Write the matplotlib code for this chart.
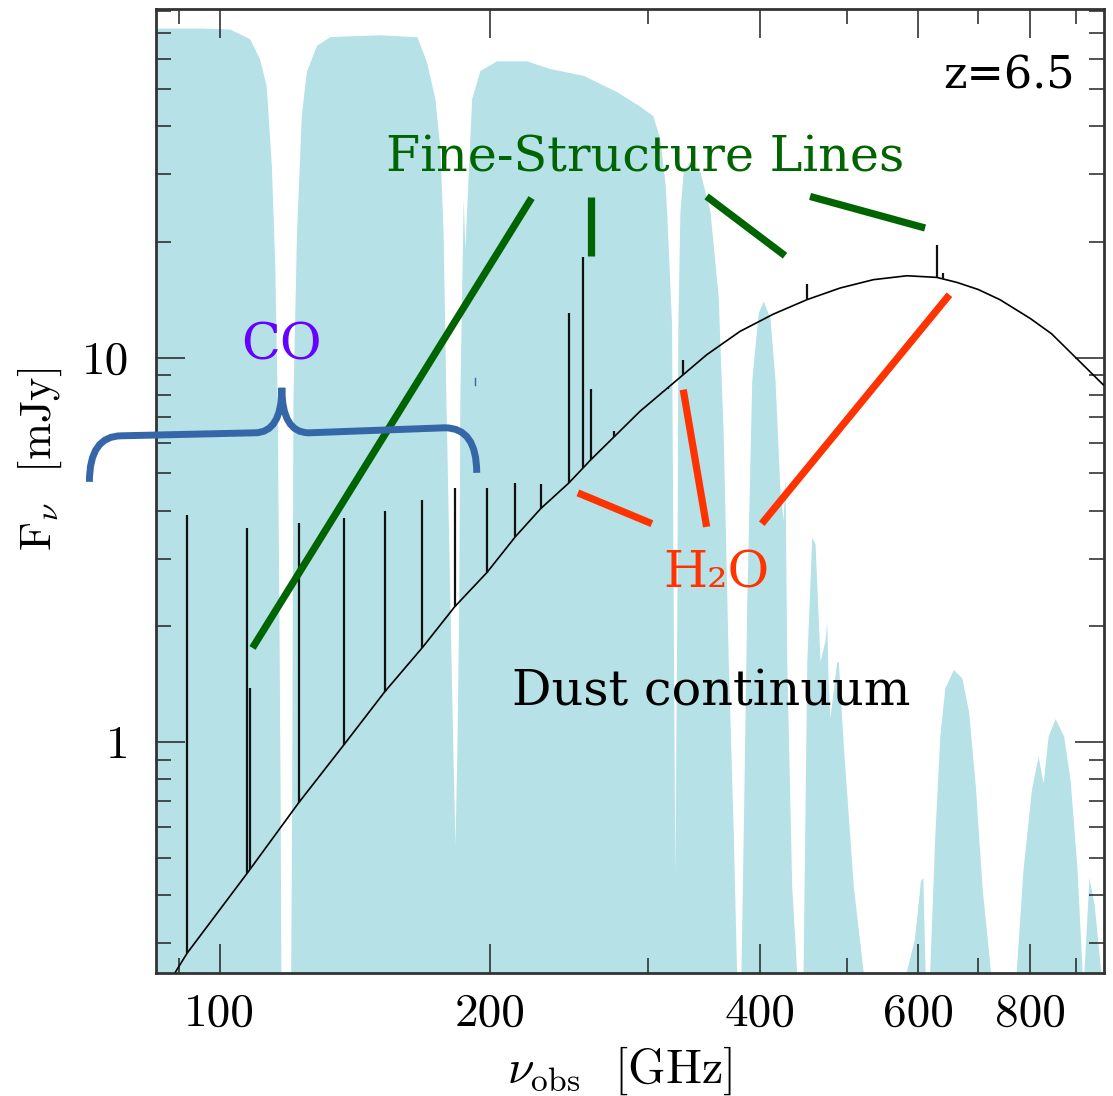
import numpy as np
import matplotlib.pyplot as plt
from matplotlib.path import Path
from matplotlib.patches import PathPatch
from matplotlib.ticker import NullFormatter

plt.rcParams["mathtext.fontset"] = "cm"
plt.rcParams["axes.unicode_minus"] = False

# dust continuum of the z=6.5 source (observed GHz, mJy)
cont_nu = [89.3, 92.0, 107.3, 122.5, 137.5, 152.7, 168.2, 182.8, 198.5, 213.5,
           227.9, 244.9, 259.0, 293.9, 320.2, 348.8, 379.9, 413.9, 451.0, 491.2,
           535.0, 583.1, 629.5, 663.0, 700.0, 740.5, 800.0, 845.0, 900.0, 964.7]
cont_flux = [0.252, 0.282, 0.455, 0.695, 0.982, 1.35, 1.76, 2.25, 2.76, 3.42,
             4.05, 4.72, 5.42, 7.25, 8.59, 10.18, 11.71, 12.99, 14.16, 15.19,
             15.97, 16.35, 16.19, 15.71, 15.06, 14.16, 12.66, 11.55, 9.99, 8.51]

# emission lines: CO ladder, [CI], fine-structure and H2O lines
line_nu = [92.0, 107.3, 108.2, 122.5, 137.5, 152.7, 168.2, 182.8, 198.5, 213.5,
           227.9, 244.9, 253.7, 259.0, 274.9, 312.0, 316.0, 328.1, 451.0, 629.5,
           639.3]
line_peak = [3.9, 3.6, 1.38, 3.71, 3.83, 4.0, 4.27, 4.59, 4.59, 4.72,
             4.70, 13.1, 18.3, 8.3, 6.43, 8.2, 8.3, 9.86, 15.6, 19.7,
             16.6]

# atmospheric transmission, as a fraction of the panel height
atm_nu = [84.9, 95.0, 102.6, 105.3, 108.0, 110.8, 112.7, 114.2, 115.2, 115.9,
          116.4, 116.8, 117.0, 120.0, 120.3, 120.7, 121.8, 123.3, 124.9, 128.2,
          132.6, 139.6, 150.8, 165.9, 170.0, 173.7, 176.0, 177.4, 178.7, 180.5,
          181.9, 182.9, 183.8, 184.7, 185.2, 186.8, 187.6, 190.9, 195.0, 203.5,
          219.8, 233.3, 254.1, 277.0, 293.9, 303.9, 309.4, 313.4, 314.8, 318.8,
          320.1, 321.5, 323.2, 324.0, 325.7, 328.5, 334.2, 342.9, 351.8, 359.3,
          364.0, 368.7, 373.4, 376.7, 380.9, 383.2, 386.6, 391.6, 398.2, 403.4,
          410.4, 415.7, 421.1, 424.4, 426.5, 428.4, 433.9, 439.5, 446.7, 451.0,
          456.8, 460.7, 466.6, 472.7, 474.7, 476.3, 478.6, 487.0, 489.0, 495.3,
          508.2, 521.4, 581.6, 594.3, 603.7, 607.4, 611.0, 618.1, 626.2, 634.4,
          642.7, 656.9, 671.4, 683.1, 695.0, 707.2, 722.8, 771.6, 785.1, 802.4,
          816.4, 827.0, 837.7, 852.9, 871.6, 886.4, 902.4, 914.1, 918.1, 930.2,
          942.7, 959.0, 967.2]
atm_trans = [0.980, 0.980, 0.979, 0.974, 0.969, 0.948, 0.920, 0.837, 0.733, 0.595,
             0.387, 0.180, 0.0, 0.0, 0.180, 0.595, 0.768, 0.889, 0.935, 0.962,
             0.971, 0.972, 0.973, 0.971, 0.945, 0.907, 0.855, 0.768, 0.595, 0.387,
             0.232, 0.133, 0.232, 0.387, 0.595, 0.803, 0.751, 0.907, 0.936, 0.946,
             0.946, 0.938, 0.931, 0.914, 0.899, 0.889, 0.865, 0.820, 0.790, 0.673,
             0.387, 0.102, 0.387, 0.673, 0.790, 0.831, 0.842, 0.831, 0.790, 0.702,
             0.557, 0.323, 0.148, 0.0, 0.0, 0.148, 0.382, 0.615, 0.685, 0.697,
             0.679, 0.615, 0.498, 0.470, 0.516, 0.323, 0.090, 0.0, 0.0, 0.323,
             0.452, 0.445, 0.323, 0.346, 0.364, 0.304, 0.265, 0.323, 0.323, 0.236,
             0.090, 0.0, 0.0, 0.035, 0.096, 0.099, 0.0, 0.0, 0.141, 0.246,
             0.296, 0.315, 0.306, 0.271, 0.194, 0.088, 0.0, 0.0, 0.106, 0.190,
             0.225, 0.197, 0.246, 0.264, 0.246, 0.200, 0.106, 0.0, 0.0, 0.099,
             0.071, 0.0, 0.0]

fig = plt.figure(figsize=(11.13, 10.96), dpi=100)
ax = fig.add_axes([0.140, 0.112, 0.852, 0.880])
ax.set_xscale("log")
ax.set_yscale("log")
ax.set_xlim(84.9, 967)
ax.set_ylim(0.25, 81)

ax.fill_between(atm_nu, 0, atm_trans, transform=ax.get_xaxis_transform(),
                color="#b5e1e7", lw=0, zorder=1)

# continuum plus line spikes sitting on it
ax.plot(cont_nu, cont_flux, color="black", lw=1.2, zorder=3)
base = np.exp(np.interp(np.log(line_nu), np.log(cont_nu), np.log(cont_flux)))
ax.vlines(line_nu, base, line_peak, color="#111111", lw=1.6, zorder=3)

# fine-structure pointers
green = "#006400"
for (x0, y0), (x1, y1) in [((108.8, 1.757), (222.6, 26.05)),
                           ((259.6, 18.44), (259.6, 26.15)),
                           ((348.8, 26.3), (426.5, 18.44)),
                           ((454.8, 26.3), (610.9, 21.77))]:
    ax.plot([x0, x1], [y0, y1], color=green, lw=5.2, solid_capstyle="butt", zorder=4)

# water pointers
red = "#ff3300"
for (x0, y0), (x1, y1) in [((250.7, 4.45), (303.1, 3.70)),
                           ((328.5, 8.26), (348.8, 3.63)),
                           ((650.3, 14.59), (401.8, 3.70))]:
    ax.plot([x0, x1], [y0, y1], color=red, lw=5.2, solid_capstyle="butt", zorder=4)

# curly brace over the CO ladder
brace_verts = [(71.6, 4.754), (71.6, 6.265), (77.75, 6.265), (109.4, 6.378),
               (117.3, 6.378), (117.3, 8.354), (117.3, 6.378), (125.7, 6.378),
               (178.2, 6.573), (193.4, 6.573), (193.4, 5.018)]
brace_codes = [Path.MOVETO, Path.CURVE3, Path.CURVE3, Path.LINETO,
               Path.CURVE3, Path.CURVE3, Path.CURVE3, Path.CURVE3,
               Path.LINETO, Path.CURVE3, Path.CURVE3]
ax.add_patch(PathPatch(Path(brace_verts, brace_codes), fill=False,
                       edgecolor="#3566a8", lw=5, capstyle="butt",
                       clip_on=False, zorder=4))
ax.plot([192.4, 192.4], [8.51, 8.87], color="#3566a8", lw=1, zorder=4)

serif = "DejaVu Serif"
ax.text(297.7, 30.5, "Fine-Structure Lines", color=green, fontsize=35.5,
        family=serif, ha="center", va="baseline", zorder=5)
ax.text(117.3, 9.89, "CO", color="#6600ff", fontsize=36.5, family=serif,
        ha="center", va="baseline", zorder=5)
ax.text(357.3, 2.518, "H\u2082O", color=red, fontsize=36.5, family=serif,
        ha="center", va="baseline", zorder=5)
ax.text(353.1, 1.241, "Dust continuum", color="black", fontsize=35.5,
        family=serif, ha="center", va="baseline", zorder=5)
ax.text(0.969, 0.917, "z=6.5", transform=ax.transAxes, color="black",
        fontsize=32, family=serif, ha="right", va="baseline", zorder=5)

# axes, ticks and labels
ax.set_xticks([100, 200, 400, 600, 800], labels=["100", "200", "400", "600", "800"])
ax.set_xticks([90, 300, 500, 700, 900], minor=True)
ax.set_yticks([1, 10], labels=["1", "10"])
ax.set_yticks([0.3, 0.4, 0.5, 0.6, 0.7, 0.8, 0.9, 2, 3, 4, 5, 6, 7, 8, 9,
               20, 30, 40, 50, 60, 70, 80], minor=True)
ax.xaxis.set_minor_formatter(NullFormatter())
ax.yaxis.set_minor_formatter(NullFormatter())
ax.tick_params(which="both", direction="in", top=True, right=True,
               width=1.1, color="#222222")
ax.tick_params(which="major", length=21, labelsize=34)
ax.tick_params(axis="x", which="major", pad=14)
ax.tick_params(axis="y", which="major", pad=19)
ax.tick_params(which="minor", length=10.5)
for lab in ax.get_xticklabels() + ax.get_yticklabels():
    lab.set_family("cmr10")
for sp in ax.spines.values():
    sp.set_linewidth(2.0)
    sp.set_color("#333333")

ax.set_xlabel(r"$\nu_{\rm obs}$  [GHz]", family="cmr10", fontsize=34.5)
ax.xaxis.set_label_coords(0.489, -0.074)
ax.set_ylabel(r"F$_\nu$  [mJy]", family="cmr10", fontsize=32)
ax.yaxis.set_label_coords(-0.097, 0.533)

fig.savefig("out.png", dpi=100)
